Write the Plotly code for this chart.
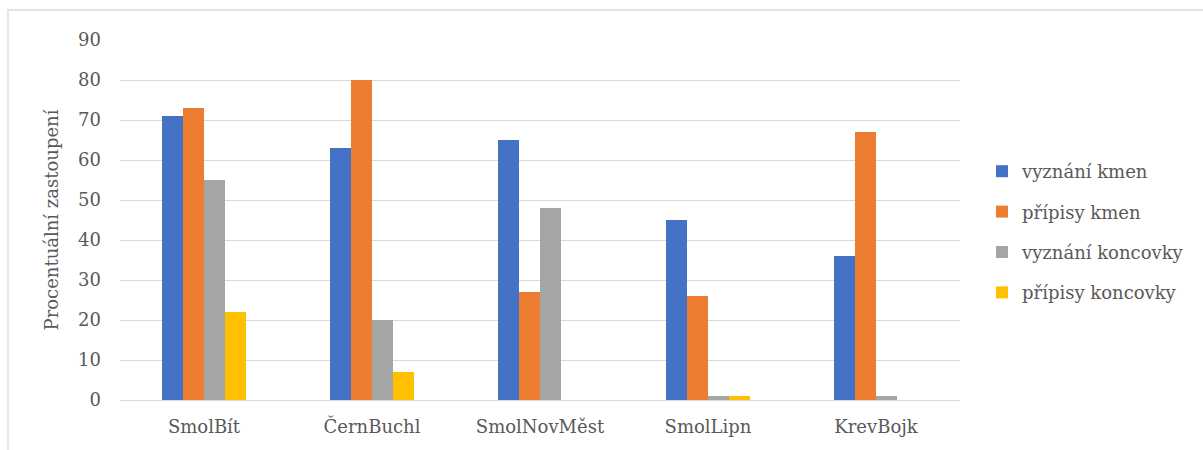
import plotly.graph_objects as go

categories = ["SmolBít", "ČernBuchl", "SmolNovMěst", "SmolLipn", "KrevBojk"]
series_names = ["vyznání kmen", "přípisy kmen", "vyznání koncovky", "přípisy koncovky"]
vyznani_kmen = [71, 63, 65, 45, 36]
pripisy_kmen = [73, 80, 27, 26, 67]
vyznani_koncovky = [55, 20, 48, 1, 1]
pripisy_koncovky = [22, 7, 0, 1, 0]
y_ticks = [0, 10, 20, 30, 40, 50, 60, 70, 80, 90]

colors = ["#4472C4", "#ED7D31", "#A5A5A5", "#FFC000"]
series_values = [vyznani_kmen, pripisy_kmen, vyznani_koncovky, pripisy_koncovky]

FONT = "DejaVu Serif"
TEXT = "#595959"
FS = 18

fig = go.Figure()
for name, vals, col in zip(series_names, series_values, colors):
    fig.add_trace(go.Bar(name=name, x=categories, y=vals, legendgroup=name,
                         marker=dict(color=col, line=dict(width=0))))

W, H = 1203, 450
L, R, T, B = 120, 243, 40, 50
pw, ph = W - L - R, H - T - B


def px_x(p):
    return (p - L) / pw


def px_y(p):
    return (H - B - p) / ph


fig.update_layout(
    width=W, height=H,
    margin=dict(l=L, r=R, t=T, b=B),
    paper_bgcolor="white", plot_bgcolor="white",
    barmode="group", bargap=0.5, bargroupgap=0,
    font=dict(family=FONT, color=TEXT, size=FS),
    xaxis=dict(showgrid=False, showline=False, ticks="", automargin=False,
               ticklabelstandoff=14,
               tickfont=dict(family=FONT, size=FS, color=TEXT)),
    yaxis=dict(range=[0, 90], tickvals=y_ticks, showgrid=True, automargin=False,
               gridcolor="#D9D9D9", gridwidth=1.3, zeroline=True,
               zerolinecolor="#D9D9D9", zerolinewidth=1.3,
               ticks="", ticklabelstandoff=18,
               tickfont=dict(family=FONT, size=FS, color=TEXT),
               title=dict(text="Procentuální zastoupení", standoff=14,
                          font=dict(family=FONT, size=FS, color=TEXT))),
    legend=dict(x=px_x(982), y=px_y(232), xanchor="left", yanchor="middle",
                traceorder="grouped", tracegroupgap=14,
                itemwidth=30,
                font=dict(family=FONT, size=FS, color=TEXT)),
    shapes=[dict(type="rect", xref="paper", yref="paper",
                 x0=px_x(8), x1=px_x(1230), y0=px_y(10), y1=px_y(480),
                 line=dict(color="#D9D9D9", width=1.3), layer="below")],
)

fig.write_html("out.html")
